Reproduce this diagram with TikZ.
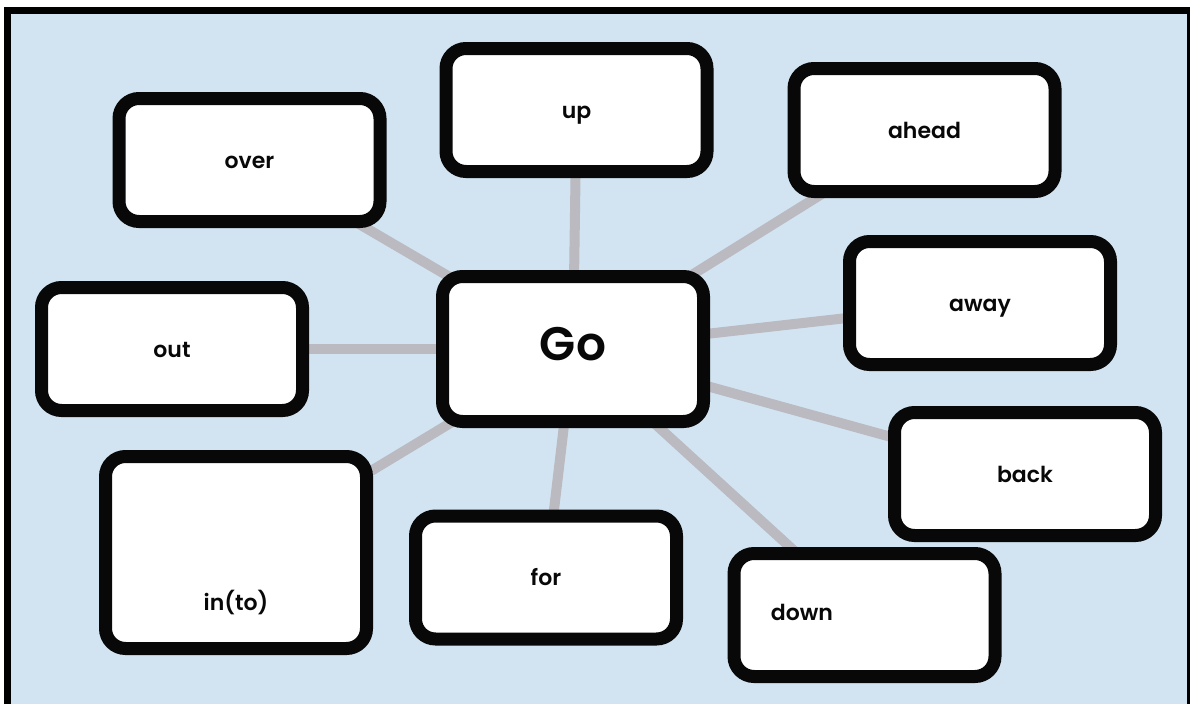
\documentclass[tikz,border=0pt]{standalone}
\usepackage{fontspec}
\setmainfont{Poppins}[BoldFont={Poppins SemiBold}]
\usetikzlibrary{backgrounds}
\definecolor{sky}{RGB}{210,228,241}
\definecolor{spoke}{RGB}{186,186,192}
\definecolor{ink}{RGB}{8,8,8}
\pgfdeclarelayer{frame}
\pgfsetlayers{frame,background,main}
\tikzset{
  word/.style={rounded corners=20pt, draw=ink, line width=13pt, fill=white,
    minimum width=261pt, minimum height=123pt, inner sep=0pt,
    font=\bfseries\fontsize{22}{22}\selectfont, text=ink,
    text height=16pt, text depth=0pt},
  wordtext/.style={inner sep=0pt, font=\bfseries\fontsize{22}{22}\selectfont, text=ink,
    text height=16pt, text depth=0pt},
  link/.style={draw=spoke, line width=10pt}
}
\begin{document}
\begin{tikzpicture}[x=1pt,y=-1pt]
  % page and frame
  \useasboundingbox (0,0) rectangle (1192,704);
  \begin{pgfonlayer}{frame}
    \fill[white] (0,0) rectangle (1192,704);
    \fill[sky] (11,14) rectangle (1187,704);
    \fill[black] (4,7) rectangle (11,704);
    \fill[black] (4,7) rectangle (1190,14);
    \fill[black] (1187,7) rectangle (1190,704);
  \end{pgfonlayer}

  % centre word
  \node[word, minimum width=261pt, minimum height=145pt, text height=22pt,
        font=\bfseries\fontsize{47}{47}\selectfont] (go) at (573,349) {Go};

  % surrounding words
  \node[word] (over)  at (249.5,160) {over};
  \node[word] (up)    at (576.5,110) {up};
  \node[word] (ahead) at (924.5,130) {ahead};
  \node[word] (away)  at (980,303)   {away};
  \node[word] (out)   at (172,349)   {out};
  \node[word, minimum height=192pt] (into) at (236,552.5) {};
  \node[word] (for)   at (546,577.5) {for};
  \node[word] (back)  at (1025,474)  {back};
  \node[word] (down)  at (864.5,615) {};
  \node[wordtext] (intolabel) at (236,602) {in(to)};
  \node[wordtext] (downlabel) at (802,612) {down};

  % spokes, drawn underneath the boxes
  \begin{scope}[on background layer]
    \foreach \w in {over,up,ahead,away,out,into,for,back,down}
      \draw[link] (go.center) -- (\w.center);
  \end{scope}
\end{tikzpicture}
\end{document}
